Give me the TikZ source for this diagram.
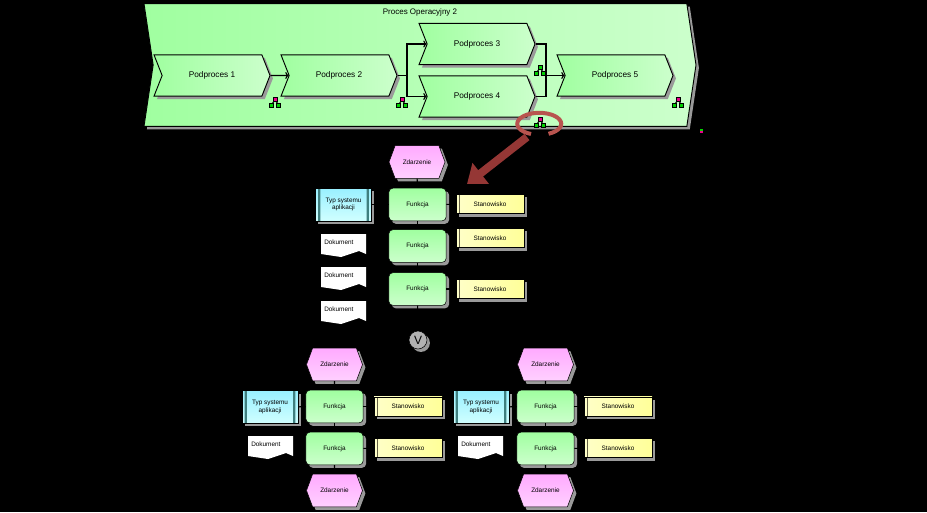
\documentclass[tikz,border=0pt]{standalone}
\usepackage{fontspec}
\setmainfont{Liberation Sans}
\usetikzlibrary{positioning,arrows.meta,shapes.symbols,shadows}
\definecolor{cienszary}{HTML}{9A9A9A}
\definecolor{strzalka}{HTML}{953735}
\definecolor{obwodka}{HTML}{B8544F}
\definecolor{zielen1}{HTML}{A0FFA0}
\definecolor{zielen2}{HTML}{CCFFCC}
\definecolor{roz1}{HTML}{FFAAFF}
\definecolor{roz2}{HTML}{FFD0FF}
\definecolor{zolty1}{HTML}{FFFFC8}
\definecolor{zolty2}{HTML}{FFFF99}
\definecolor{cyjan1}{HTML}{99F0FF}
\definecolor{cyjan2}{HTML}{D0FFFF}
\definecolor{ciemny}{HTML}{3F7F7F}
\definecolor{ikzielony}{HTML}{00D000}
\tikzset{
	cien/.style={general shadow={fill=cienszary, shadow xshift=2.2pt, shadow yshift=-2.2pt}},
	proces/.style={shape=signal, signal from=west, signal to=east, draw=black, line width=.7pt, cien,
		left color=zielen1, right color=zielen2, inner sep=0pt, font=\fontsize{6.2}{7}\selectfont},
	podproces/.style={proces, minimum width=87pt, minimum height=31pt, signal pointer angle=137},
	zdarzenie/.style={shape=signal, signal from=nowhere, signal to=east and west, draw=black, cien, inner sep=0pt,
		top color=roz1, bottom color=roz2,
		minimum width=42pt, minimum height=24.5pt, signal pointer angle=139, font=\fontsize{4.8}{6}\selectfont},
	funkcja/.style={rectangle, rounded corners=3pt, draw=black, cien, inner sep=0pt,
		top color=zielen1, bottom color=zielen2,
		minimum width=43pt, minimum height=24.5pt, font=\fontsize{4.8}{6}\selectfont},
	stanowisko/.style={rectangle, draw=black, cien, inner sep=0pt,
		left color=zolty1, right color=zolty2,
		minimum width=51pt, minimum height=14.5pt, font=\fontsize{4.8}{6}\selectfont,
		path picture={\draw[black!70!yellow] ([xshift=2.2pt]path picture bounding box.north west) -- ([xshift=2.2pt]path picture bounding box.south west);}},
	typsystemu/.style={rectangle, draw=black, cien, inner sep=0pt, align=center,
		top color=cyjan1, bottom color=cyjan2,
		minimum width=42pt, minimum height=24.5pt, font=\fontsize{4.8}{5.6}\selectfont,
		path picture={\fill[ciemny] ([xshift=2pt]path picture bounding box.north west) rectangle ([xshift=3.6pt]path picture bounding box.south west)
			([xshift=-2pt]path picture bounding box.north east) rectangle ([xshift=-3.6pt]path picture bounding box.south east);}},
	polaczenie/.style={draw=black, line width=.8pt},
	kropka/.style={rectangle, draw=black, line width=.6pt, minimum size=3pt, inner sep=0pt},
}
% dokument: name, x, y
\newcommand{\dokument}[3]{
	\fill[white] (#2,#3) -- ++(45,0) -- ++(0,20) -- ++(-7,-3) -- ++(-18,6) -- ++(-20,-3) -- cycle;
	\node[anchor=north west, inner sep=0pt, font=\fontsize{4.8}{6}\selectfont] (#1) at (#2+3,#3+5.5) {Dokument};
}
% ikona: name, x, y, top colour
\newcommand{\ikona}[4]{
	\draw[line width=.8pt] (#2,#3-2.5) -- (#2-3.5,#3+3) (#2,#3-2.5) -- (#2+3.5,#3+3);
	\node[kropka, fill=#4] (#1t) at (#2,#3-2.5) {};
	\node[kropka, fill=ikzielony] (#1l) at (#2-3.5,#3+3) {};
	\node[kropka, fill=ikzielony] (#1r) at (#2+3.5,#3+3) {};
}
\begin{document}
\begin{tikzpicture}[x=0.75pt, y=-0.75pt]
	\useasboundingbox[fill=black] (0,0) rectangle (927,512);

	% glowny proces
	\node[proces, minimum width=414pt, minimum height=92pt, signal pointer angle=163] (glowny) at (420,65) {};
	\node[font=\fontsize{6}{7}\selectfont] (tytul) at (420,12) {Proces Operacyjny 2};

	\node[podproces] (p1) at (212,75.5) {Podproces 1};
	\node[podproces] (p2) at (339,75.5) {Podproces 2};
	\node[podproces] (p3) at (477,44) {Podproces 3};
	\node[podproces] (p4) at (477,96.5) {Podproces 4};
	\node[podproces] (p5) at (615,75.5) {Podproces 5};

	\coordinate (rozL) at (407,75.5);
	\coordinate (rozP) at (546,75.5);

	\draw[polaczenie, -{To[length=2.5pt]}] (p1) -- (p2);
	\draw[polaczenie] (p2.east) -- (rozL);
	\draw[polaczenie, -{To[length=2.5pt]}] (rozL) |- (p3.west);
	\draw[polaczenie, -{To[length=2.5pt]}] (rozL) |- (p4.west);
	\draw[polaczenie] (p3.east) -| (rozP);
	\draw[polaczenie] (p4.east) -| (rozP);
	\draw[polaczenie, -{To[length=2.5pt]}] (rozP) -- (p5.west);

	\ikona{ik1}{275}{102}{magenta}
	\ikona{ik2}{402}{102}{magenta}
	\ikona{ik3}{540}{70}{ikzielony}
	\ikona{ik4}{540}{122}{magenta}
	\ikona{ik5}{678}{102}{magenta}

	% obwodka i strzalka
	\draw[obwodka, line width=3pt] (531,134) arc[start angle=112, end angle=425, x radius=22, y radius=11];
	\coordinate (strzP) at (527,137);
	\coordinate (strzK) at (467,184);
	\draw[strzalka, line width=6pt, -{Triangle[length=13pt, width=19pt]}] (strzP) -- (strzK);

	% srodkowa sciezka
	\node[zdarzenie] (z1) at (417,162) {Zdarzenie};
	\node[funkcja] (f1) at (417.5,204.5) {Funkcja};
	\node[funkcja] (f2) at (417.5,246) {Funkcja};
	\node[funkcja] (f3) at (417.5,289) {Funkcja};
	\node[stanowisko] (s1) at (490,204) {Stanowisko};
	\node[stanowisko] (s2) at (490,238) {Stanowisko};
	\node[stanowisko] (s3) at (490,289) {Stanowisko};
	\node[typsystemu] (t1) at (343.5,204.5) {Typ systemu\\aplikacji};
	\dokument{d1}{321}{234}
	\dokument{d2}{321}{267}
	\dokument{d3}{321}{301}

	\node[circle, draw=black, fill=black!30!white, minimum size=13.5pt, inner sep=0pt, cien, font=\fontsize{9}{9}\selectfont] (lub) at (418,340) {V};

	\draw[polaczenie] (z1) -- (f1);
	\draw[polaczenie] (f1) -- (f2);
	\draw[polaczenie] (f2) -- (f3);
	\draw[polaczenie] (f3) -- (lub);
	\draw[polaczenie] (t1) -- (f1);
	\draw[polaczenie] (f1) -- (s1);
	\draw[polaczenie] (f3) -- (s3);

	% lewa galaz
	\node[zdarzenie] (z2) at (334.5,364.5) {Zdarzenie};
	\node[funkcja] (f4) at (334.5,406.5) {Funkcja};
	\node[funkcja] (f5) at (334.5,448.5) {Funkcja};
	\node[zdarzenie] (z3) at (334.5,490.5) {Zdarzenie};
	\node[stanowisko] (s4) at (408,406.5) {Stanowisko};
	\node[stanowisko] (s5) at (408,448) {Stanowisko};
	\node[typsystemu] (t2) at (270,407) {Typ systemu\\aplikacji};
	\dokument{d4}{248}{436}

	\draw[polaczenie] (z2) -- (f4);
	\draw[polaczenie] (f4) -- (f5);
	\draw[polaczenie] (f5) -- (z3);
	\draw[polaczenie] (t2) -- (f4);
	\draw[polaczenie] (f4) -- (s4);
	\draw[polaczenie] (f5) -- (s5);

	% prawa galaz
	\node[zdarzenie] (z4) at (545.5,364.5) {Zdarzenie};
	\node[funkcja] (f6) at (545.5,406.5) {Funkcja};
	\node[funkcja] (f7) at (545.5,448.5) {Funkcja};
	\node[zdarzenie] (z5) at (545.5,490.5) {Zdarzenie};
	\node[stanowisko] (s6) at (618,406.5) {Stanowisko};
	\node[stanowisko] (s7) at (618,448) {Stanowisko};
	\node[typsystemu] (t3) at (481,407) {Typ systemu\\aplikacji};
	\dokument{d5}{458}{436}

	\draw[polaczenie] (z4) -- (f6);
	\draw[polaczenie] (f6) -- (f7);
	\draw[polaczenie] (f7) -- (z5);
	\draw[polaczenie] (t3) -- (f6);
	\draw[polaczenie] (f6) -- (s6);
	\draw[polaczenie] (f7) -- (s7);

	% znacznik
	\fill[ikzielony] (700,129) rectangle (703,130.5);
	\fill[magenta] (700,131) rectangle (703,133);
\end{tikzpicture}
\end{document}
